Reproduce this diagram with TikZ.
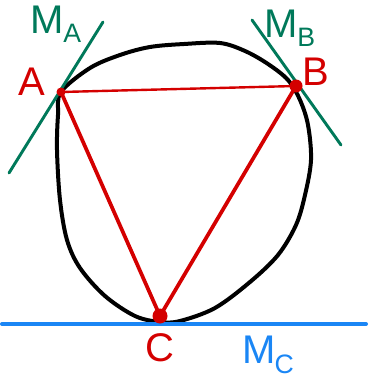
\documentclass[tikz,border=0pt]{standalone}
\usepackage{fontspec}
\setmainfont{Liberation Sans}
\usepackage{tikz}
\usetikzlibrary{calc}
\definecolor{ptred}{HTML}{D40000}
\definecolor{tangreen}{HTML}{00795A}
\definecolor{baseblue}{HTML}{1A86F5}
\newcommand{\tanlbl}[1]{M\kern-0.5pt\raisebox{-0.45ex}{\fontsize{20}{20}\selectfont #1}}

\begin{document}
\begin{tikzpicture}[x=0.75pt, y=-0.75pt, line cap=round,
    lbl/.style={font=\fontsize{30}{30}\selectfont, inner sep=0pt}]
    \useasboundingbox (0,0) rectangle (368,378);

    % the (not so round) circle
    \draw[line width=3pt] plot[smooth cycle, tension=0.55] coordinates {
        (61,92) (90,68) (120,55) (150,47) (184,44) (220,43) (245,51) (268,64)
        (288,80) (300,100) (308,125) (311,160) (305,195) (296,225) (278,255)
        (250,282) (215,308) (180,321) (160,322) (135,316) (105,296) (80,268)
        (67,240) (60,200) (57,150) (58,115)};

    \coordinate (A) at (61,92);
    \coordinate (B) at (296,86);
    \coordinate (C) at (160,316);

    % tangents
    \coordinate (MAs) at (9,173);
    \coordinate (MAe) at (103,22);
    \coordinate (MBs) at (252,20);
    \coordinate (MBe) at (341,145);
    \coordinate (MCs) at (2,324);
    \coordinate (MCe) at (366,324);
    \draw[tangreen, line width=2.2pt] (MAs) -- (MAe);
    \draw[tangreen, line width=2.2pt] (MBs) -- (MBe);
    \draw[baseblue, line width=3pt] (MCs) -- (MCe);

    % triangle
    \draw[ptred, line width=1.8pt] (A) -- (B);
    \draw[ptred, line width=2.8pt] (A) -- (C) -- (B);
    \fill[ptred] (A) circle (4.5);
    \fill[ptred] (B) circle (6.5);
    \fill[ptred] (C) circle (7.5);

    \node[lbl, text=ptred] (labA) at (32,82) {A};
    \node[lbl, text=ptred] (labB) at (316,72) {B};
    \node[lbl, text=ptred] (labC) at (160,348) {C};
    \node[lbl, text=tangreen] (labMA) at (56,24) {\tanlbl{A}};
    \node[lbl, text=tangreen] (labMB) at (290,28) {\tanlbl{B}};
    \node[lbl, text=baseblue] (labMC) at (268,355) {\tanlbl{C}};
\end{tikzpicture}
\end{document}
